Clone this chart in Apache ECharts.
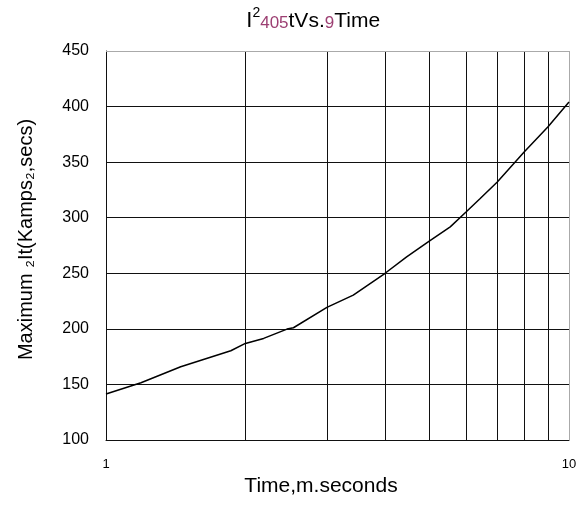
<!DOCTYPE html>
<html>
<head>
<meta charset="utf-8">
<script src="https://cdn.jsdelivr.net/npm/echarts@6/dist/echarts.min.js"></script>
<style>
html,body{margin:0;padding:0;background:#fff;}
#chart{width:582px;height:511px;}
</style>
</head>
<body>
<div id="chart"></div>
<script>
// Data
var times = [1, 1.19, 1.45, 1.86, 2, 2.19, 2.46, 2.54, 3, 3.42, 4, 4.46, 5, 5.54, 6, 6.43, 7, 8, 9, 10];
var i2tValues = [141.4, 151.5, 165.9, 180.3, 186.9, 191.4, 199.8, 201, 219.3, 230.4, 249.8, 264.8, 279.2, 291.8, 305.3, 317.3, 332.2, 359.2, 381.7, 404.2];
var xGridValues = [2, 3, 4, 5, 6, 7, 8, 9];
var xMajorLabels = [1, 10];
var yTicks = [100, 150, 200, 250, 300, 350, 400, 450];

var FONT = 'Liberation Sans, Arial, sans-serif';
var PURPLE = '#9c3f72';

var chart = echarts.init(document.getElementById('chart'), null, {renderer: 'canvas'});

var markData = xGridValues.map(function (v) {
  return {xAxis: v, lineStyle: {color: '#111', width: 1, type: 'solid'}};
});
markData.push({xAxis: xMajorLabels[1], lineStyle: {color: '#aaa', width: 1, type: 'solid'}});
markData.push({yAxis: yTicks[yTicks.length - 1], lineStyle: {color: '#aaa', width: 1, type: 'solid'}});

chart.setOption({
  animation: false,
  backgroundColor: '#fff',
  textStyle: {fontFamily: FONT},
  title: {
    left: 241,
    top: 1,
    padding: [5, 5, 5, 5],
    text: '{sp| }{big|I}{sup|2}{pur|405}{norm|tVs.}{pur|9}{norm|Time}',
    textStyle: {
      fontFamily: FONT,
      fontWeight: 'normal',
      rich: {
        sp: {fontSize: 1, lineHeight: 26, verticalAlign: 'bottom', fontFamily: FONT},
        big: {fontSize: 22, lineHeight: 22, verticalAlign: 'bottom', color: '#000', fontFamily: FONT},
        sup: {fontSize: 14, lineHeight: 14, verticalAlign: 'top', color: '#000', fontFamily: FONT},
        pur: {fontSize: 17, lineHeight: 17, verticalAlign: 'bottom', color: PURPLE, fontFamily: FONT},
        norm: {fontSize: 21, lineHeight: 21, verticalAlign: 'bottom', color: '#000', fontFamily: FONT}
      }
    }
  },
  grid: {left: 106, right: 13, top: 51, bottom: 71, containLabel: false},
  xAxis: {
    type: 'log',
    logBase: 10,
    min: 1,
    max: 10,
    name: 'Time,m.seconds',
    nameLocation: 'middle',
    nameGap: 32,
    nameTextStyle: {fontSize: 21, color: '#000', fontFamily: FONT, padding: [0, 33, 0, 0]},
    axisLine: {show: true, lineStyle: {color: '#111', width: 1}},
    axisTick: {show: false},
    splitLine: {show: false},
    minorTick: {show: false},
    minorSplitLine: {show: false},
    axisLabel: {
      fontSize: 13, color: '#000', margin: 18, fontFamily: FONT,
      formatter: function (v) { return xMajorLabels.indexOf(Math.round(v)) >= 0 ? String(Math.round(v)) : ''; }
    }
  },
  yAxis: {
    type: 'value',
    min: yTicks[0],
    max: yTicks[yTicks.length - 1],
    interval: 50,
    name: 'Maximum \u2082It(Kamps\u2082,secs)',
    nameLocation: 'middle',
    nameGap: 70,
    nameRotate: 90,
    nameTextStyle: {fontSize: 20, color: '#000', fontFamily: FONT, padding: [0, 0, 0, 12]},
    axisLine: {show: true, lineStyle: {color: '#111', width: 1}},
    axisTick: {show: false},
    splitLine: {show: true, showMinLine: false, showMaxLine: false, lineStyle: {color: '#111', width: 1}},
    axisLabel: {fontSize: 16, color: '#000', margin: 17, fontFamily: FONT, padding: [0, 0, 10, 0]}
  },
  series: [{
    type: 'line',
    data: times.map(function (t, i) { return [t, i2tValues[i]]; }),
    showSymbol: false,
    symbol: 'none',
    smooth: false,
    lineStyle: {color: '#000', width: 1.5},
    z: 5,
    markLine: {
      silent: true,
      symbol: ['none', 'none'],
      label: {show: false},
      animation: false,
      data: markData
    }
  }]
});
</script>
</body>
</html>
